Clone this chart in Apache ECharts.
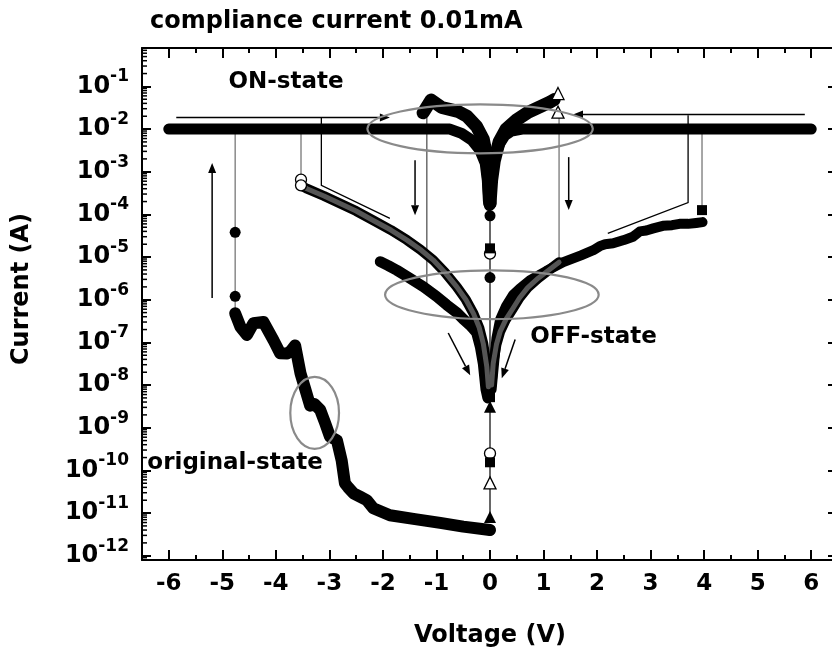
<!DOCTYPE html>
<html><head><meta charset="utf-8">
<script src="https://cdn.jsdelivr.net/npm/echarts@6/dist/echarts.min.js"></script>
<style>html,body{margin:0;padding:0;background:#fff}#c{width:832px;height:658px}</style>
</head><body><div id="c"></div>
<script>
// ---------------- data (Voltage in V, Current in A) ----------------
const xTicks = [-6, -5, -4, -3, -2, -1, 0, 1, 2, 3, 4, 5, 6];
const yDecades = [-12, -11, -10, -9, -8, -7, -6, -5, -4, -3, -2, -1];
const minorMult = [2, 3, 4, 5, 6, 7, 8, 9];

// original state (forming sweep, filled circles)
const origV = [0, -0.5, -0.93, -1.4, -1.87, -2.18, -2.30, -2.42, -2.55, -2.65, -2.71, -2.77, -2.86, -2.99, -3.08, -3.17, -3.28, -3.36, -3.45, -3.54, -3.64, -3.72, -3.79, -3.92, -4.04, -4.23, -4.42, -4.54, -4.66, -4.76];
const origI = [4.0e-12, 4.8e-12, 5.9e-12, 7.2e-12, 8.9e-12, 1.3e-11, 2.0e-11, 2.4e-11, 2.9e-11, 4.0e-11, 5.0e-11, 1.7e-10, 5.1e-10, 6.2e-10, 1.3e-9, 2.6e-9, 3.6e-9, 3.3e-9, 8.0e-9, 1.9e-8, 8.5e-8, 6.3e-8, 5.5e-8, 5.6e-8, 1.1e-7, 3.0e-7, 2.8e-7, 1.5e-7, 2.3e-7, 4.8e-7];
const origLinkV = [-4.76, -4.76, -4.76, -4.76];
const origLinkI = [4.8e-7, 1.2e-6, 3.8e-5, 1e-2];

// ON state (compliance) branches
const onLeftV = [-6.0, -5.0, -4.0, -3.0, -2.0, -1.0, -0.75, -0.53, -0.34, -0.19, -0.09, -0.05, -0.03, -0.01];
const onLeftI = [1e-2, 1e-2, 1e-2, 1e-2, 1e-2, 1e-2, 1e-2, 7.9e-3, 5.5e-3, 3.2e-3, 1.6e-3, 6.3e-4, 2.1e-4, 1.6e-4];
const onRightV = [6.0, 5.0, 4.0, 3.0, 2.0, 1.0, 0.6, 0.4, 0.28, 0.18, 0.1, 0.05, 0.02, 0.0];
const onRightI = [1e-2, 1e-2, 1e-2, 1e-2, 1e-2, 1e-2, 1e-2, 8.9e-3, 7.1e-3, 4.5e-3, 2.5e-3, 1.1e-3, 4.0e-4, 1.8e-4];
const peakLeftV = [-1.25, -1.1, -0.9, -0.6, -0.43, -0.25, -0.125, -0.05, -0.02, 0.0];
const peakLeftI = [2.4e-2, 4.8e-2, 3.2e-2, 2.6e-2, 2.0e-2, 1.15e-2, 5.8e-3, 1.95e-3, 4.8e-4, 1.8e-4];
const peakRightV = [0.0, 0.03, 0.08, 0.17, 0.3, 0.5, 0.72, 0.95, 1.12, 1.2];
const peakRightI = [1.8e-4, 6.3e-4, 1.8e-3, 5.0e-3, 1.0e-2, 1.66e-2, 2.5e-2, 3.4e-2, 4.3e-2, 4.9e-2];

// OFF state branches
const offAV = [-3.53, -3.42, -3.1, -2.8, -2.5, -2.18, -1.85, -1.55, -1.3, -1.06, -0.85, -0.62, -0.45, -0.31, -0.2, -0.125, -0.06, -0.03];
const offAI = [4.8e-4, 4.0e-4, 2.7e-4, 1.8e-4, 1.2e-4, 7.2e-5, 4.3e-5, 2.5e-5, 1.5e-5, 8.5e-6, 4.5e-6, 2.0e-6, 1.0e-6, 4.8e-7, 2.2e-7, 9.3e-8, 2.7e-8, 9.1e-9];
const offBV = [-2.05, -1.9, -1.74, -1.5, -1.24, -1.0, -0.81, -0.62, -0.5, -0.37, -0.25, -0.18, -0.125, -0.075, -0.04];
const offBI = [7.8e-6, 6.3e-6, 4.9e-6, 3.2e-6, 2.0e-6, 1.2e-6, 7.6e-7, 5.0e-7, 3.5e-7, 2.5e-7, 1.7e-7, 7.9e-8, 3.2e-8, 7.9e-9, 5.0e-9];
const offCV = [3.97, 3.85, 3.7, 3.54, 3.4, 3.23, 3.05, 2.92, 2.8, 2.74, 2.67, 2.5, 2.3, 2.15, 2.05, 1.93, 1.7, 1.37, 1.05, 0.75, 0.55, 0.43, 0.3, 0.19, 0.12, 0.09, 0.06, 0.03];
const offCI = [6.6e-5, 6.3e-5, 6.0e-5, 6.0e-5, 5.6e-5, 5.4e-5, 4.7e-5, 4.2e-5, 4.0e-5, 3.5e-5, 3.0e-5, 2.5e-5, 2.1e-5, 2.0e-5, 1.8e-5, 1.45e-5, 1.1e-5, 7.6e-6, 4.7e-6, 2.9e-6, 1.8e-6, 1.3e-6, 7.1e-7, 3.5e-7, 1.26e-7, 5.0e-8, 2.0e-8, 7.9e-9];
const offDV = [1.29, 1.1, 0.9, 0.7, 0.55, 0.43, 0.3, 0.19, 0.12, 0.06, 0.03];
const offDI = [7.6e-6, 5.0e-6, 3.2e-6, 1.9e-6, 1.1e-6, 6.3e-7, 3.5e-7, 1.8e-7, 8.9e-8, 3.2e-8, 1.0e-8];

// vertical jumps (set / reset)
const linkAV = [-3.53, -3.53, -3.53];  const linkAI = [1e-2, 6.5e-4, 4.8e-4];
const linkBV = [-1.18, -1.18];         const linkBI = [2.2e-6, 2.9e-2];
const linkCV = [3.96, 3.96];           const linkCI = [1e-2, 1.26e-4];
const linkDV = [1.29, 1.29];           const linkDI = [2.5e-2, 7.6e-6];
const zeroLineV = [0, 0];              const zeroLineI = [1.8e-4, 8.1e-12];

// individual markers
const fCircV = [-4.76, -4.76, 0, 0, 0];     const fCircI = [1.2e-6, 3.8e-5, 9.3e-5, 3.3e-6, 4.0e-12];
const oCircV = [-3.53, -3.53, 0, 0];        const oCircI = [6.5e-4, 4.8e-4, 1.2e-5, 2.5e-10];
const fSqV = [3.96, 0, 0, 0];               const fSqI = [1.26e-4, 1.6e-5, 5.2e-9, 1.55e-10];
const oTriV = [1.27, 1.27, 0];              const oTriI = [6.8e-2, 2.5e-2, 5.1e-11];
const fTriV = [0, 0];                       const fTriI = [3.1e-9, 8.1e-12];

// ---------------- annotations (data coordinates) ----------------
const arrows = [
  [[-5.86, 1.86e-2], [-1.87, 1.86e-2]],
  [[5.88, 2.2e-2], [1.55, 2.2e-2]],
  [[-1.40, 1.86e-3], [-1.40, 9.5e-5]],
  [[1.47, 2.2e-3], [1.47, 1.26e-4]],
  [[-5.19, 1.1e-6], [-5.19, 1.6e-3]],
  [[-0.78, 1.66e-7], [-0.37, 1.7e-8]],
  [[0.47, 1.17e-7], [0.22, 1.45e-8]]
];
const brackets = [
  [[-3.15, 1.86e-2], [-3.15, 4.8e-4], [-1.87, 8.1e-5]],
  [[3.70, 2.1e-2], [3.70, 1.9e-4], [2.20, 3.6e-5]]
];
const ellipses = [
  [[-2.29, 3.8e-2], [1.92, 2.7e-3]],
  [[-1.96, 4.9e-6], [2.03, 3.5e-7]],
  [[-3.73, 1.55e-8], [-2.82, 3.2e-10]]
];
const labels = [
  ['ON-state', -3.81, 0.124, 'center'],
  ['OFF-state', 0.75, 1.32e-7, 'left'],
  ['original-state', -6.40, 1.48e-10, 'left']
];

// ---------------- chart ----------------
const X_MIN = -6.5, X_MAX = 6.5, Y_MIN = -12.1, Y_MAX = -0.1;
const FONT = '"DejaVu Sans", sans-serif';
const lg = v => Math.log10(v);
const pts = (V, I) => V.map((v, i) => [v, lg(I[i])]);
const isInt = v => Math.abs(v - Math.round(v)) < 1e-6;

const minorData = [];
[-13].concat(yDecades).forEach(d => minorMult.forEach(m => {
  const e = d + Math.log10(m);
  if (e > Y_MIN && e < Y_MAX) minorData.push([X_MIN, e]);
}));

function band(V, I, width, color, z) {
  return { type: 'line', data: pts(V, I), symbol: 'none', z: z || 3, silent: true,
    lineStyle: { width: width, color: color || '#000', cap: 'round', join: 'round' } };
}
function link(V, I, color, width) {
  return { type: 'line', data: pts(V, I), symbol: 'none', z: 2, silent: true,
    lineStyle: { width: width || 1.3, color: color } };
}
function marks(V, I, symbol, size, filled) {
  return { type: 'scatter', data: pts(V, I), symbol: symbol, symbolSize: size, z: 5, silent: true,
    itemStyle: { color: filled ? '#000' : '#fff', borderColor: '#000', borderWidth: filled ? 0 : 1.3, opacity: 1 } };
}

const axisCommon = {
  axisLine: { show: true, onZero: false, lineStyle: { color: '#000', width: 2 } },
  splitLine: { show: false }
};

const chart = echarts.init(document.getElementById('c'), null, { renderer: 'canvas' });
chart.setOption({
  animation: false,
  backgroundColor: '#fff',
  title: { text: 'compliance current 0.01mA', left: 150, top: 10, padding: 0,
    textStyle: { fontFamily: FONT, fontWeight: 'bold', fontSize: 24, color: '#000' } },
  grid: { left: 142, top: 48, width: 696, height: 512, show: false, containLabel: false, outerBoundsMode: 'none' },
  xAxis: [
    Object.assign({ type: 'value', position: 'bottom', min: X_MIN, max: X_MAX, minInterval: 1, maxInterval: 1,
      axisTick: { inside: true, length: 10, lineStyle: { color: '#000', width: 2 } },
      minorTick: { show: true, splitNumber: 2, length: 5, lineStyle: { color: '#000', width: 2 } },
      axisLabel: { margin: 13, color: '#000', fontFamily: FONT, fontWeight: 'bold', fontSize: 23,
        formatter: v => (isInt(v) && xTicks.includes(Math.round(v))) ? String(Math.round(v)) : '' },
      name: 'Voltage (V)', nameLocation: 'middle', nameGap: 64,
      nameTextStyle: { color: '#000', fontFamily: FONT, fontWeight: 'bold', fontSize: 24 } }, axisCommon),
    Object.assign({ type: 'value', position: 'top', min: X_MIN, max: X_MAX, minInterval: 1, maxInterval: 1,
      axisTick: { inside: true, length: 10, lineStyle: { color: '#000', width: 2 } },
      minorTick: { show: true, splitNumber: 2, length: 5, lineStyle: { color: '#000', width: 2 } },
      axisLabel: { show: false } }, axisCommon)
  ],
  yAxis: [
    Object.assign({ type: 'value', position: 'left', min: Y_MIN, max: Y_MAX, minInterval: 1, maxInterval: 1,
      axisTick: { inside: true, length: 9, lineStyle: { color: '#000', width: 2 } },
      axisLabel: { margin: 13, color: '#000', fontFamily: FONT, fontWeight: 'bold',
        formatter: v => (isInt(v) && yDecades.includes(Math.round(v))) ? '{b|10}{s|' + Math.round(v) + '}' : '',
        rich: {
          b: { fontFamily: FONT, fontWeight: 'bold', fontSize: 24, lineHeight: 36, color: '#000' },
          s: { fontFamily: FONT, fontWeight: 'bold', fontSize: 17, lineHeight: 17, verticalAlign: 'top', color: '#000' }
        } },
      name: 'Current (A)', nameLocation: 'middle', nameGap: 108,
      nameTextStyle: { color: '#000', fontFamily: FONT, fontWeight: 'bold', fontSize: 24, padding: [0, 0, 0, 30] } }, axisCommon),
    Object.assign({ type: 'value', position: 'right', min: Y_MIN, max: Y_MAX, minInterval: 1, maxInterval: 1,
      axisTick: { inside: true, length: 10, lineStyle: { color: '#000', width: 2 } },
      axisLabel: { show: false } }, axisCommon)
  ],
  series: [
    { type: 'custom', data: minorData, silent: true, z: 6, clip: false,
      renderItem: (params, api) => {
        const p = api.coord([X_MIN, api.value(1)]);
        const q = api.coord([X_MAX, api.value(1)]);
        return { type: 'group', children: [
          { type: 'line', shape: { x1: p[0], y1: p[1], x2: p[0] + 5, y2: p[1] }, style: { stroke: '#000', lineWidth: 1.5 } },
          { type: 'line', shape: { x1: q[0], y1: q[1], x2: q[0] - 5, y2: q[1] }, style: { stroke: '#000', lineWidth: 1.5 } }
        ] };
      } },
    link(origLinkV, origLinkI, '#777'),
    link(linkAV, linkAI, '#777'),
    link(linkBV, linkBI, '#555'),
    link(linkCV, linkCI, '#777'),
    link(linkDV, linkDI, '#777'),
    link(zeroLineV, zeroLineI, '#000', 1.2),
    band(onLeftV, onLeftI, 11),
    band(onRightV, onRightI, 11),
    band(peakLeftV, peakLeftI, 13),
    band(peakRightV, peakRightI, 13),
    band(origV, origI, 12),
    band(offAV, offAI, 10),
    band(offAV, offAI, 5, '#555', 4),
    band(offBV, offBI, 11),
    band(offCV, offCI, 10),
    band(offDV, offDI, 10),
    band(offDV, offDI, 5, '#555', 4),
    marks(fCircV, fCircI, 'circle', 11, true),
    marks(oCircV, oCircI, 'circle', 11, false),
    marks(fSqV, fSqI, 'rect', 10, true),
    marks(oTriV, oTriI, 'triangle', 12, false),
    marks(fTriV, fTriI, 'triangle', 12, true)
  ]
});

// ---------------- annotation graphics ----------------
const px = (p) => chart.convertToPixel({ gridIndex: 0 }, [p[0], lg(p[1])]);
const g = [];
arrows.forEach(a => {
  const s = px(a[0]), e = px(a[1]);
  const dx = e[0] - s[0], dy = e[1] - s[1], L = Math.hypot(dx, dy), ux = dx / L, uy = dy / L;
  const hl = 10, hw = 4;
  const bx = e[0] - ux * hl, by = e[1] - uy * hl;
  g.push({ type: 'line', z: 20, shape: { x1: s[0], y1: s[1], x2: bx, y2: by }, style: { stroke: '#000', lineWidth: 1.5 } });
  g.push({ type: 'polygon', z: 20, shape: { points: [[e[0], e[1]], [bx - uy * hw, by + ux * hw], [bx + uy * hw, by - ux * hw]] }, style: { fill: '#000' } });
});
brackets.forEach(b => {
  g.push({ type: 'polyline', z: 20, shape: { points: b.map(px) }, style: { stroke: '#000', lineWidth: 1.3, fill: null } });
});
ellipses.forEach(el => {
  const a = px(el[0]), b = px(el[1]);
  g.push({ type: 'ellipse', z: 21, shape: { cx: (a[0] + b[0]) / 2, cy: (a[1] + b[1]) / 2, rx: Math.abs(b[0] - a[0]) / 2, ry: Math.abs(b[1] - a[1]) / 2 },
    style: { fill: null, stroke: '#8a8a8a', lineWidth: 2.2 } });
});
labels.forEach(t => {
  const p = px([t[1], t[2]]);
  g.push({ type: 'text', z: 22, x: p[0], y: p[1], style: { text: t[0], fill: '#000', font: 'bold 23px ' + FONT, textAlign: t[3], textVerticalAlign: 'middle' } });
});
chart.setOption({ graphic: g });
</script></body></html>
